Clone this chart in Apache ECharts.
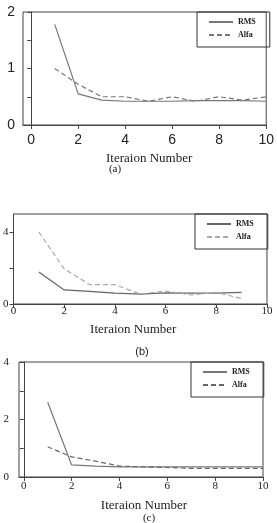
<!DOCTYPE html>
<html><head><meta charset="utf-8">
<script src="https://cdn.jsdelivr.net/npm/echarts@6/dist/echarts.min.js"></script>
<style>html,body{margin:0;padding:0;background:#fff}#c{width:277px;height:523px}</style>
</head><body><div id="c"></div>
<script>
// Panel (a)
const iterA = [1,2,3,4,5,6,7,8,9,10];
const rmsA  = [1.78,0.55,0.44,0.42,0.42,0.42,0.43,0.43,0.43,0.42];
const alfaA = [1.0,0.72,0.5,0.5,0.42,0.5,0.42,0.5,0.44,0.5];
// Panel (b)
const iterB = [1,2,3,4,5,6,7,8,9];
const rmsB  = [1.78,0.78,0.7,0.6,0.55,0.62,0.6,0.6,0.65];
const alfaB = [4.0,1.95,1.08,1.08,0.55,0.72,0.5,0.65,0.3];
// Panel (c)
const iterC = [1,2,3,4,5,6,7,8,9,10];
const rmsC  = [2.6,0.42,0.38,0.35,0.35,0.35,0.35,0.35,0.35,0.35];
const alfaC = [1.05,0.7,0.55,0.38,0.35,0.33,0.3,0.3,0.3,0.3];
// Tick labels
const xLabels = [0,2,4,6,8,10];
const yLabelsA = [0,1,2];
const yLabelsB = [0,4];
const yLabelsC = [0,2,4];
const xTitle = 'Iteraion Number';
const captions = ['(a)','(b)','(c)'];

const pair = (xs, ys) => xs.map((x,i)=>[x, ys[i]]);
const axisCol = '#444';
const serif = '"Liberation Serif", "DejaVu Serif", serif';
const sans = '"Liberation Sans", Arial, sans-serif';

function xAx(idx, min, labelFont, labelSize, margin, nameGap, namePad) {
  return {
    type:'value', gridIndex: idx, min: min, max: 10,
    axisLine:{show:true, onZero:false, lineStyle:{color:axisCol, width:1}},
    axisTick:{show:true, length:4, lineStyle:{color:axisCol}, customValues: xLabels},
    axisLabel:{customValues: xLabels, color:'#222', fontFamily: labelFont, fontSize: labelSize, margin: margin},
    splitLine:{show:false},
    name: xTitle, nameLocation:'middle', nameGap: nameGap,
    nameTextStyle:{fontFamily: serif, fontSize: 13, color:'#222', padding: namePad}
  };
}
function yAx(idx, max, ticks, labels, labelFont, labelSize, margin) {
  return {
    type:'value', gridIndex: idx, min: 0, max: max,
    axisLine:{show:true, lineStyle:{color:axisCol, width:1}},
    axisTick:{show:true, length:4, lineStyle:{color:axisCol}, customValues: ticks},
    axisLabel:{customValues: labels, color:'#222', fontFamily: labelFont, fontSize: labelSize, margin: margin},
    splitLine:{show:false}
  };
}
function ln(name, idx, data, color, dashed) {
  return {
    type:'line', name: name, xAxisIndex: idx, yAxisIndex: idx, data: data,
    symbol:'none', silent:true, animation:false,
    itemStyle:{color: color},
    lineStyle:{color: color, width: 1.2, type: dashed ? [5,3] : 'solid'}
  };
}
function lg(names, left, top) {
  return {
    orient:'vertical', left: left, top: top, data: names,
    formatter: n => n.split(' ')[0],
    itemWidth: 24, itemHeight: 8, itemGap: 5,
    padding:[6, 14, 8, 11],
    borderColor:'#333', borderWidth:1, borderRadius:0,
    selectedMode:false,
    itemStyle:{opacity:0, borderWidth:0},
    textStyle:{fontFamily: serif, fontSize: 8, fontWeight:'bold', color:'#222'}
  };
}

const chart = echarts.init(document.getElementById('c'), null, {renderer:'canvas'});
chart.setOption({
  animation:false,
  backgroundColor:'#fff',
  title: [
    {text: captions[0], left: 110, top: 159, textAlign:'center', textStyle:{fontFamily: serif, fontSize: 11, fontWeight:'normal', color:'#222'}},
    {text: captions[1], left: 137, top: 341, textAlign:'center', textStyle:{fontFamily: sans, fontSize: 11, fontWeight:'normal', color:'#222'}},
    {text: captions[2], left: 144, top: 508, textAlign:'center', textStyle:{fontFamily: serif, fontSize: 11, fontWeight:'normal', color:'#222'}}
  ],
  grid: [
    {left: 23, top: 12, width: 245, height: 113, show:true, borderColor:axisCol, borderWidth:1, backgroundColor:'transparent'},
    {left: 13, top: 214, width: 254, height: 90, show:true, borderColor:axisCol, borderWidth:1, backgroundColor:'transparent'},
    {left: 19, top: 362, width: 244, height: 115, show:true, borderColor:axisCol, borderWidth:1, backgroundColor:'transparent'}
  ],
  xAxis: [
    xAx(0, -0.35, sans, 14, 8, 27, [0,0,0,9]),
    xAx(1, 0, serif, 11, 2, 19, [0,14,0,0]),
    xAx(2, -0.2, serif, 11, 4, 22, [0,0,0,6])
  ],
  yAxis: [
    yAx(0, 2, [0,0.5,1,1.5,2], yLabelsA, sans, 14, 8),
    yAx(1, 5, [0,2,4], yLabelsB, serif, 11, 5),
    yAx(2, 4, [0,1,2,3,4], yLabelsC, serif, 11, 10)
  ],
  legend: [
    lg(['RMS (a)','Alfa (a)'], 197, 12),
    lg(['RMS (b)','Alfa (b)'], 195, 214),
    lg(['RMS (c)','Alfa (c)'], 191, 362)
  ],
  series: [
    ln('RMS (a)', 0, pair(iterA, rmsA), '#777', false),
    ln('Alfa (a)', 0, pair(iterA, alfaA), '#777', true),
    ln('RMS (b)', 1, pair(iterB, rmsB), '#666', false),
    ln('Alfa (b)', 1, pair(iterB, alfaB), '#aaa', true),
    ln('RMS (c)', 2, pair(iterC, rmsC), '#777', false),
    ln('Alfa (c)', 2, pair(iterC, alfaC), '#666', true)
  ]
});
</script></body></html>
